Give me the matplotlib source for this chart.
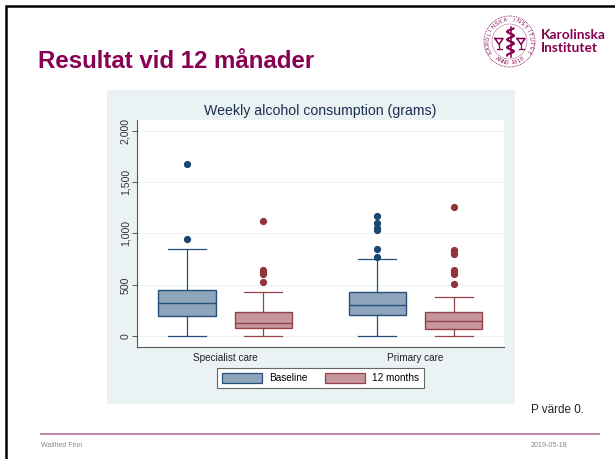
import numpy as np
from matplotlib import pyplot as plt
from matplotlib.patches import Rectangle, Circle, Patch

plt.rcParams["font.family"] = ["Liberation Sans", "DejaVu Sans"]

W, H = 615, 459
NAVY = "#24507a"
RED = "#98434a"
NAVY_FILL = "#8fa5bb"
RED_FILL = "#c5969b"
PANEL = "#eaf2f3"
KI = "#870052"

groups = ["Specialist care", "Primary care"]
series = ["Baseline", "12 months"]
yticks = [0, 500, 1000, 1500, 2000]
ytick_labels = ["0", "500", "1,000", "1,500", "2,000"]

# q1, median, q3, whisker low, whisker high
spec_base = [194, 324, 454, 0, 852]
spec_12m = [78, 130, 237, 0, 434]
prim_base = [207, 301, 431, 0, 755]
prim_12m = [71, 146, 237, 0, 386]

spec_base_out = [949, 1678]
spec_12m_out = [528, 603, 628, 645, 1121]
prim_base_out = [771, 846, 1033, 1050, 1105, 1173]
prim_12m_out = [505, 603, 628, 645, 800, 823, 842, 1257]


def make_stats(vals, fliers):
    return {
        "q1": vals[0],
        "med": vals[1],
        "q3": vals[2],
        "whislo": vals[3],
        "whishi": vals[4],
        "fliers": fliers,
    }


def draw_boxes(ax, stats, pos, edge, fill, dot):
    ax.bxp(
        stats,
        positions=pos,
        widths=0.30,
        patch_artist=True,
        manage_ticks=False,
        capwidths=0.2,
        boxprops=dict(facecolor=fill, edgecolor=edge, linewidth=1.0),
        medianprops=dict(color=edge, linewidth=1.0),
        whiskerprops=dict(color=edge, linewidth=0.9),
        capprops=dict(color=edge, linewidth=0.9),
        flierprops=dict(
            marker="o",
            markersize=4.2,
            markerfacecolor=dot,
            markeredgecolor=dot,
            linestyle="none",
        ),
    )


def ring_text(bg, cx, cy, r, text, start, stop, bottom=False):
    angles = np.linspace(start, stop, len(text))
    for ch, a in zip(text, angles):
        t = np.deg2rad(a)
        bg.text(
            cx + r * np.sin(t),
            cy - r * np.cos(t),
            ch,
            fontsize=3.9,
            color=KI,
            rotation=180 - a if bottom else -a,
            ha="center",
            va="center",
        )


def draw_seal(bg):
    cx, cy, r = 509.5, 41.5, 25.5
    bg.add_patch(Circle((cx, cy), r, fill=False, ec=KI, lw=0.6, ls=(0, (1, 1))))
    bg.add_patch(Circle((cx, cy), r - 8, fill=False, ec=KI, lw=0.4, alpha=0.6))
    ring_text(bg, cx, cy, r - 4, "KAROLINSKA INSTITUTET", -118, 118)
    ring_text(bg, cx, cy, r - 4, "ANNO 1810", 215, 145, bottom=True)
    # staff with snake, and the two emblems beside it
    s = np.linspace(-13, 14, 50)
    bg.plot([cx + 1, cx + 1], [cy - 15, cy + 15], color=KI, lw=1.1)
    bg.plot(cx + 1 + 3.5 * np.sin(s * 0.8), cy + s, color=KI, lw=1.5)
    for dx in (-10.5, 11.5):
        bg.plot(
            [cx + dx - 4, cx + dx + 4, cx + dx, cx + dx - 4],
            [cy - 3, cy - 3, cy + 3, cy - 3],
            color=KI,
            lw=1.1,
        )
        bg.plot([cx + dx, cx + dx], [cy + 3, cy + 7], color=KI, lw=0.9)
        bg.plot([cx + dx - 2.5, cx + dx + 2.5], [cy + 7, cy + 7], color=KI, lw=0.9)


fig = plt.figure(figsize=(W / 100, H / 100), dpi=100, facecolor="white")

# slide layer in pixel coordinates
bg = fig.add_axes([0, 0, 1, 1], zorder=0)
bg.set_xlim(0, W)
bg.set_ylim(H, 0)
bg.axis("off")
bg.plot([6, 6, W], [H, 6, 6], color="black", lw=1.8, solid_joinstyle="miter")
bg.add_patch(Rectangle((107, 90), 408, 314, fc=PANEL, ec="none"))
bg.plot([41, 598.7], [433.8, 433.8], color="#c27ba0", lw=1.3)
bg.text(38, 61, "Resultat vid 12 månader", fontsize=17.3, fontweight="bold",
        color=KI, ha="left", va="center")
kw = dict(fontsize=9.9, fontweight="bold", color=KI, ha="left", va="center",
          family=["Lato", "Liberation Sans"])
bg.text(540.5, 35, "Karolinska", **kw)
bg.text(540.5, 48.3, "Institutet", **kw)
draw_seal(bg)
bg.text(531, 410, "P värde 0.", fontsize=8.4, color="#222222", ha="left", va="center")
bg.text(41, 445.7, "Wallhed Finn", fontsize=5, color="#888888", ha="left", va="center")
bg.text(530.7, 445.7, "2019-05-18", fontsize=5.1, color="#888888", ha="left", va="center")

# chart
ax = fig.add_axes([137.3 / W, 1 - 347.3 / H, (504 - 137.3) / W, (347.3 - 120) / H], zorder=1)
ax.set_facecolor("white")
ax.set_xlim(-0.461, 1.465)
ax.set_ylim(-107, 2104)

base_pos = np.arange(len(groups)) - 0.2
m12_pos = np.arange(len(groups)) + 0.2
draw_boxes(ax, [make_stats(spec_base, spec_base_out), make_stats(prim_base, prim_base_out)],
           base_pos, NAVY, NAVY_FILL, "#1a476f")
draw_boxes(ax, [make_stats(spec_12m, spec_12m_out), make_stats(prim_12m, prim_12m_out)],
           m12_pos, RED, RED_FILL, "#90353b")

ax.set_yticks(yticks)
ax.set_yticklabels(ytick_labels, rotation=90, va="center", fontsize=7.6)
ax.set_xticks(np.arange(len(groups)))
ax.set_xticklabels(groups, fontsize=7.2)
ax.tick_params(axis="x", length=0, pad=4, colors="#222222")
ax.tick_params(axis="y", length=3.5, width=0.7, pad=1.5, color="#555555", labelcolor="#333333")
ax.grid(axis="y", color=PANEL, linewidth=0.8)
ax.set_axisbelow(True)
for side in ["top", "right"]:
    ax.spines[side].set_visible(False)
for side in ["left", "bottom"]:
    ax.spines[side].set_color("#555555")
    ax.spines[side].set_linewidth(0.8)
ax.set_title("Weekly alcohol consumption (grams)", fontsize=10.2, color="#1c2f50", pad=3.5)

handles = [
    Patch(facecolor=NAVY_FILL, edgecolor=NAVY, linewidth=0.9),
    Patch(facecolor=RED_FILL, edgecolor=RED, linewidth=0.9),
]
leg = fig.legend(
    handles,
    series,
    loc="center",
    bbox_to_anchor=(320.5 / W, 1 - 378 / H),
    ncol=2,
    fontsize=7.2,
    fancybox=False,
    framealpha=1,
    facecolor="white",
    edgecolor="#666666",
    handlelength=4,
    handleheight=1.1,
    handletextpad=0.7,
    columnspacing=1.8,
    borderpad=0.45,
)
leg.set_zorder(2)
leg.get_frame().set_linewidth(0.8)

fig.savefig("out.png", dpi=100)
